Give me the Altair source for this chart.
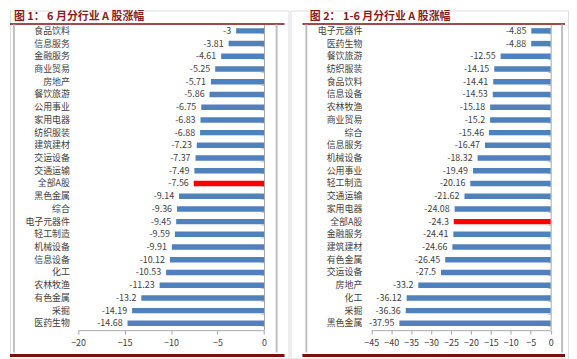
import altair as alt
import pandas as pd

# ---- data ----
cats1 = ["食品饮料", "信息服务", "金融服务", "商业贸易", "房地产", "餐饮旅游", "公用事业",
         "家用电器", "纺织服装", "建筑建材", "交运设备", "交通运输", "全部A股", "黑色金属",
         "综合", "电子元器件", "轻工制造", "机械设备", "信息设备", "化工", "农林牧渔",
         "有色金属", "采掘", "医药生物"]
vals1 = [-3, -3.81, -4.61, -5.25, -5.71, -5.86, -6.75, -6.83, -6.88, -7.23, -7.37, -7.49,
         -7.56, -9.14, -9.36, -9.45, -9.59, -9.91, -10.12, -10.53, -11.23, -13.2, -14.19, -14.68]

cats2 = ["电子元器件", "医药生物", "餐饮旅游", "纺织服装", "食品饮料", "信息设备", "农林牧渔",
         "商业贸易", "综合", "信息服务", "机械设备", "公用事业", "轻工制造", "交通运输",
         "家用电器", "全部A股", "金融服务", "建筑建材", "有色金属", "交运设备", "房地产",
         "化工", "采掘", "黑色金属"]
vals2 = [-4.85, -4.88, -12.55, -14.15, -14.41, -14.53, -15.18, -15.2, -15.46, -16.47, -18.32,
         -19.49, -20.16, -21.62, -24.08, -24.3, -24.41, -24.66, -26.45, -27.5, -33.2, -36.12,
         -36.36, -37.95]

title1 = "图 1： 6 月分行业 A 股涨幅"
title2 = "图 2： 1-6 月分行业 A 股涨幅"
ticks1 = [-20, -15, -10, -5, 0]
ticks2 = [-45, -40, -35, -30, -25, -20, -15, -10, -5, 0]
highlight = "全部A股"

FONT = "Noto Sans CJK SC"
BLUE = "#4F81BD"
RED = "#FF0000"
DARKRED = "#7F0F0F"
FRAME = "#BFBFBF"
TXT = "#404040"
H = 351


def fmt(v):
    s = ("%.2f" % v).rstrip("0").rstrip(".")
    return s


def panel(cats, vals, title, W, xr, dom, ticks, lab_off, frames, ul, title_x):
    df = pd.DataFrame({
        "cat": cats,
        "val": vals,
        "lab": [fmt(v) for v in vals],
        "col": [RED if c == highlight else BLUE for c in cats],
    })
    yscale = alt.Scale(range=[14.1, 322.0], paddingInner=0.57, paddingOuter=0.285)
    xscale = alt.Scale(domain=dom, range=xr, nice=False, zero=False)
    xaxis = alt.Axis(values=ticks, offset=322.5 - H, tickSize=4, labelPadding=4,
                     domainColor="#A6A6A6", tickColor="#A6A6A6", labelColor=TXT,
                     labelFontSize=9, labelFont=FONT, grid=False, title=None,
                     labelFlush=False)

    bars = alt.Chart(df).mark_bar().encode(
        x=alt.X("val:Q", scale=xscale, axis=xaxis),
        y=alt.Y("cat:N", sort=None, scale=yscale,
                axis=alt.Axis(orient="left", offset=-xr[1], labels=False, title=None,
                              domain=True, domainColor="#A6A6A6", ticks=True,
                              tickBand="extent", tickSize=3, tickColor="#BFBFBF")),
        color=alt.Color("col:N", scale=None),
    )
    texts = alt.Chart(df).mark_text(align="right", baseline="middle", dx=-5,
                                    fontSize=9, font=FONT, color=TXT).encode(
        x=alt.X("val:Q", scale=xscale, axis=xaxis),
        y=alt.Y("cat:N", sort=None, scale=yscale,
                axis=alt.Axis(orient="left", offset=lab_off, labelPadding=4, title=None,
                              domain=False, ticks=False, labelColor=TXT, labelFontSize=9,
                              labelFont=FONT)),
        text="lab:N",
    )
    one = pd.DataFrame({"t": [title]})
    ttl = alt.Chart(one).mark_text(align="left", baseline="middle", fontSize=11,
                                   fontWeight="bold", font=FONT, color="#8B1A1A").encode(
        x=alt.value(title_x), y=alt.value(7), text="t:N")
    underline = alt.Chart(one).mark_rule(color=DARKRED, strokeWidth=1.5).encode(
        x=alt.value(ul[0]), x2=alt.value(ul[1]), y=alt.value(13.5), y2=alt.value(13.5))
    bottom = alt.Chart(one).mark_rule(color=DARKRED, strokeWidth=3).encode(
        x=alt.value(ul[0]), x2=alt.value(ul[1]), y=alt.value(348), y2=alt.value(348))
    fl = alt.Chart(one).mark_rule(color=FRAME, strokeWidth=2).encode(
        x=alt.value(frames[0]), x2=alt.value(frames[0]), y=alt.value(14), y2=alt.value(345))
    fr = alt.Chart(one).mark_rule(color=FRAME, strokeWidth=2).encode(
        x=alt.value(frames[1]), x2=alt.value(frames[1]), y=alt.value(14), y2=alt.value(345))

    return alt.layer(bars, texts, ttl, underline, bottom, fl, fr).resolve_axis(
        y="independent").properties(width=W, height=H)


left = panel(cats1, vals1, title1, 281, [68.7, 256.3], [-20, 0], ticks1, -64,
             (4, 269), (0, 277), 4)
right = panel(cats2, vals2, title2, 280, [81.5, 262.5], [-45, 0], ticks2, -76,
              (16, 274), (12, 277), 19.5)

chart = alt.hconcat(left, right, spacing=0).properties(padding=0).configure_view(
    stroke=None).configure(background="white")

chart.save("out.html", embed_options={"renderer": "svg", "actions": False})
